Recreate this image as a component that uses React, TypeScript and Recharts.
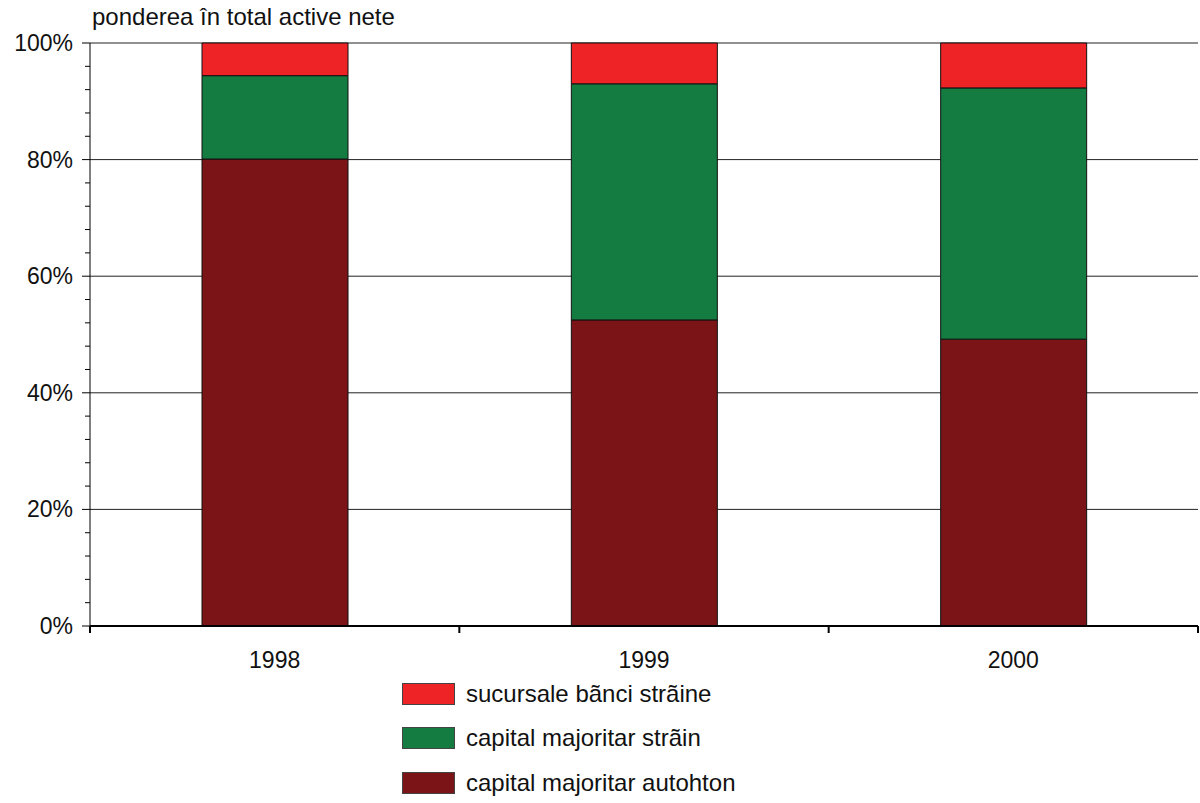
import React from 'react';
import { BarChart, Bar, XAxis, YAxis, CartesianGrid } from 'recharts';

const years = ['1998', '1999', '2000'];
const autohton = [80.1, 52.5, 49.2];
const strain = [14.3, 40.5, 43.1];
const sucursale = [5.6, 7.0, 7.7];

const yTicks = [0, 4, 8, 12, 16, 20, 24, 28, 32, 36, 40, 44, 48, 52, 56, 60, 64, 68, 72, 76, 80, 84, 88, 92, 96, 100];
const yMajor = [0, 20, 40, 60, 80, 100];

const series = [
  { key: 'sucursale', name: 'sucursale bãnci strãine', color: '#ee2326' },
  { key: 'strain', name: 'capital majoritar strãin', color: '#147c40' },
  { key: 'autohton', name: 'capital majoritar autohton', color: '#7b1416' },
];

const data = years.map((y, i) => ({
  year: y,
  autohton: autohton[i],
  strain: strain[i],
  sucursale: sucursale[i],
}));

const FONT = '"Liberation Sans", Arial, sans-serif';

// y ticks: long tick + label at every 20%, short tick otherwise
const YTick = (props: any) => {
  const { x, y, payload } = props;
  const major = yMajor.includes(payload.value);
  return (
    <g>
      <line x1={x + (major ? 0 : 3)} x2={x + 8} y1={y} y2={y} stroke="#000" strokeWidth={1} />
      {major && (
        <text x={x - 9} y={y} dy={8} textAnchor="end" fontSize={23} fill="#111" fontFamily={FONT}>
          {payload.value}%
        </text>
      )}
    </g>
  );
};

// x ticks: label in the middle of the category, tick marks on the category edges
const XTick = (props: any) => {
  const { x, y, payload, index, width, visibleTicksCount } = props;
  const half = width / visibleTicksCount / 2;
  const last = index === visibleTicksCount - 1;
  return (
    <g>
      <line x1={x - half} x2={x - half} y1={y} y2={y + 7} stroke="#000" strokeWidth={2} />
      {last && <line x1={x + half} x2={x + half} y1={y} y2={y + 7} stroke="#000" strokeWidth={2} />}
      <text x={x} y={y + 42} textAnchor="middle" fontSize={23} fill="#111" fontFamily={FONT}>
        {payload.value}
      </text>
    </g>
  );
};

export default function App() {
  return (
    <div style={{ position: 'relative', width: 1200, height: 803, background: '#fff', fontFamily: FONT }}>
      <style>{`body{margin:0}`}</style>
      <div style={{ position: 'absolute', left: 92, top: 3, fontSize: 24, color: '#111' }}>
        ponderea în total active nete
      </div>
      <BarChart
        width={1200}
        height={803}
        data={data}
        margin={{ top: 43, right: 2, left: 0, bottom: 127 }}
        barSize={146}
      >
        <CartesianGrid vertical={false} horizontalValues={yMajor} stroke="#222" />
        <XAxis
          dataKey="year"
          axisLine={{ stroke: '#000', strokeWidth: 2 }}
          tickLine={false}
          tickSize={0}
          tickMargin={0}
          interval={0}
          tick={<XTick />}
          height={50}
        />
        <YAxis
          width={90}
          domain={[0, 100]}
          ticks={yTicks}
          interval={0}
          axisLine={{ stroke: '#000' }}
          tickLine={false}
          tick={<YTick />}
        />
        <Bar dataKey="autohton" stackId="a" fill="#7b1416" stroke="#111" strokeWidth={1} isAnimationActive={false} />
        <Bar dataKey="strain" stackId="a" fill="#147c40" stroke="#111" strokeWidth={1} isAnimationActive={false} />
        <Bar dataKey="sucursale" stackId="a" fill="#ee2326" stroke="#111" strokeWidth={1} isAnimationActive={false} />
      </BarChart>
      <div style={{ position: 'absolute', left: 402, top: 672 }}>
        {series.map((s) => (
          <div key={s.key} style={{ display: 'flex', alignItems: 'center', height: 44.3 }}>
            <div style={{ width: 51, height: 20, background: s.color, border: '1px solid #444', marginRight: 11 }} />
            <span style={{ fontSize: 24, color: '#111' }}>{s.name}</span>
          </div>
        ))}
      </div>
    </div>
  );
}
